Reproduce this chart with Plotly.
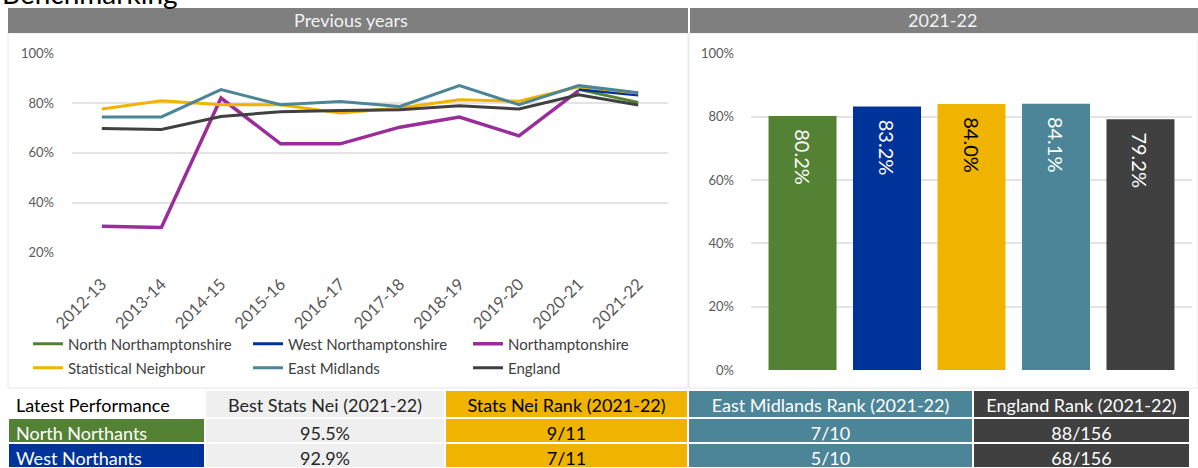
import plotly.graph_objects as go

W, H = 1198, 468

years = ['2012-13', '2013-14', '2014-15', '2015-16', '2016-17',
         '2017-18', '2018-19', '2019-20', '2020-21', '2021-22']
north_northants = [None, None, None, None, None, None, None, None, 85.5, 80.2]
west_northants = [None, None, None, None, None, None, None, None, 85.5, 83.2]
northamptonshire = [30.5, 30.0, 82.0, 63.6, 63.6, 70.3, 74.4, 66.8, 85.0, None]
stat_neighbour = [77.6, 80.9, 79.3, 79.3, 76.0, 78.0, 81.3, 80.7, 86.5, 84.0]
east_midlands = [74.4, 74.4, 85.4, 79.3, 80.6, 78.6, 87.0, 79.3, 87.0, 84.1]
england = [69.8, 69.4, 74.6, 76.5, 77.0, 77.3, 78.9, 77.6, 83.3, 79.2]

series_names = ['North Northamptonshire', 'West Northamptonshire', 'Northamptonshire',
                'Statistical Neighbour', 'East Midlands', 'England']
series_colors = ['#548235', '#003399', '#9B2D9B', '#F0B400', '#4C8597', '#404040']
series_legend = ['legend', 'legend', 'legend', 'legend2', 'legend2', 'legend2']

bar_categories = ['North Northamptonshire', 'West Northamptonshire',
                  'Statistical Neighbour', 'East Midlands', 'England']
bar_values = [80.2, 83.2, 84.0, 84.1, 79.2]
bar_colors = ['#548235', '#003399', '#F0B400', '#4C8597', '#404040']
bar_text_colors = ['white', 'white', 'black', 'white', 'white']

table_header = ['Latest Performance', 'Best Stats Nei (2021-22)', 'Stats Nei Rank (2021-22)',
                'East Midlands Rank (2021-22)', 'England Rank (2021-22)']
row_labels = ['North Northants', 'West Northants']
best_stats_nei = ['95.5%', '92.9%']
stats_nei_rank = ['9/11', '7/11']
east_mid_rank = ['7/10', '5/10']
england_rank = ['88/156', '68/156']

FONT = 'Lato'


def px_x(p):
    return p / W


def px_y(p):
    return 1 - p / H


fig = go.Figure()

series_values = [north_northants, west_northants, northamptonshire,
                 stat_neighbour, east_midlands, england]
for name, vals, col, lg in zip(series_names, series_values, series_colors, series_legend):
    fig.add_trace(go.Scatter(
        x=years, y=vals, name=name, mode='lines', legend=lg,
        line=dict(color=col, width=3.5 if name == 'Northamptonshire' else 3),
        xaxis='x', yaxis='y', connectgaps=False))

fig.add_trace(go.Bar(
    x=bar_categories, y=bar_values, marker=dict(color=bar_colors, line=dict(width=0)),
    text=['\u00a0\u00a0' + f'{v:.1f}%' for v in bar_values], textposition='inside',
    insidetextanchor='end', textangle=90,
    textfont=dict(family=FONT, size=20, color=bar_text_colors),
    constraintext='none',
    xaxis='x2', yaxis='y2', showlegend=False, hoverinfo='skip'))

fig.add_trace(go.Table(
    domain=dict(x=[px_x(8), px_x(1190)], y=[0, px_y(390)]),
    columnwidth=[197, 240, 243, 285, 217],
    header=dict(
        values=table_header,
        fill_color=['white', '#EFEFEF', '#F0B400', '#4C8597', '#404040'],
        font=dict(family=FONT, size=18, color=['black', '#262626', 'black', 'white', 'white']),
        align=['left', 'center', 'center', 'center', 'center'],
        line=dict(color='white', width=2),
        height=28),
    cells=dict(
        values=[row_labels, best_stats_nei, stats_nei_rank, east_mid_rank, england_rank],
        fill_color=[['#548235', '#003399'], ['#EFEFEF', '#EFEFEF'], ['#F0B400', '#F0B400'],
                    ['#4C8597', '#4C8597'], ['#404040', '#404040']],
        font=dict(family=FONT, size=18, color=['white', '#262626', 'black', 'white', 'white']),
        align=['left', 'center', 'center', 'center', 'center'],
        line=dict(color='white', width=2),
        height=25)))

axis_font = dict(family=FONT, size=13, color='#595959')
legend_common = dict(orientation='h', xanchor='left', yanchor='middle',
                     font=dict(family=FONT, size=15, color='#404040'),
                     entrywidth=175, entrywidthmode='pixels',
                     bgcolor='rgba(0,0,0,0)', borderwidth=0)

fig.update_layout(
    width=W, height=H,
    margin=dict(l=0, r=0, t=0, b=0, pad=0, autoexpand=False),
    paper_bgcolor='white', plot_bgcolor='white',
    font=dict(family=FONT),
    xaxis=dict(domain=[px_x(72), px_x(668)], type='category', range=[-0.5, 9.5],
               tickangle=-45, tickfont=dict(family=FONT, size=16.5, color='#595959'),
               showgrid=False, zeroline=False, showline=False, ticks='',
               ticklabelstandoff=18),
    yaxis=dict(domain=[px_y(252.3), px_y(53.3)], range=[20, 100], dtick=20,
               ticksuffix='%', tickfont=axis_font, gridcolor='#E3E3E3', gridwidth=1.5,
               zeroline=False, showline=False, ticks='', ticklabelstandoff=17),
    xaxis2=dict(domain=[px_x(751), px_x(1192)], type='category', anchor='y2',
                range=[-0.61, 4.61],
                showticklabels=False, showgrid=False, zeroline=False, ticks=''),
    yaxis2=dict(domain=[px_y(370), px_y(53.3)], range=[0, 100], dtick=20, anchor='x2',
                ticksuffix='%', tickfont=axis_font, gridcolor='#E3E3E3', gridwidth=1.5,
                zeroline=False, showline=False, ticks='', ticklabelstandoff=16),
    bargap=0.195,
    legend=dict(x=px_x(28), y=px_y(344), **legend_common),
    legend2=dict(x=px_x(28), y=px_y(368), **legend_common),
    showlegend=True,
)

shapes = [
    dict(type='rect', xref='paper', yref='paper', x0=px_x(8), x1=px_x(688),
         y0=px_y(388), y1=px_y(33), line=dict(color='#E6E6E6', width=1), fillcolor='rgba(0,0,0,0)',
         layer='below'),
    dict(type='rect', xref='paper', yref='paper', x0=px_x(689), x1=px_x(1198),
         y0=px_y(388), y1=px_y(33), line=dict(color='#E6E6E6', width=1), fillcolor='rgba(0,0,0,0)',
         layer='below'),
    dict(type='rect', xref='paper', yref='paper', x0=px_x(8), x1=px_x(688),
         y0=px_y(33), y1=px_y(8), line=dict(width=0), fillcolor='#7F7F7F'),
    dict(type='rect', xref='paper', yref='paper', x0=px_x(690), x1=px_x(1198),
         y0=px_y(33), y1=px_y(8), line=dict(width=0), fillcolor='#7F7F7F'),
]
fig.update_layout(shapes=shapes)

annotations = [
    dict(text='Previous years', xref='paper', yref='paper', x=px_x(351), y=px_y(20.5),
         xanchor='center', yanchor='middle', showarrow=False,
         font=dict(family=FONT, size=18, color='#F2F2F2')),
    dict(text='2021-22', xref='paper', yref='paper', x=px_x(942), y=px_y(20.5),
         xanchor='center', yanchor='middle', showarrow=False,
         font=dict(family=FONT, size=18, color='#F2F2F2')),
    dict(text='Benchmarking', xref='paper', yref='paper', x=px_x(0), y=px_y(12),
         xanchor='left', yanchor='bottom', showarrow=False,
         font=dict(family=FONT, size=28, color='black')),
]
fig.update_layout(annotations=annotations)

fig.write_html('out.html', config={'displayModeBar': False},
               post_script="document.body.style.margin='0px';document.body.style.overflow='hidden';")
